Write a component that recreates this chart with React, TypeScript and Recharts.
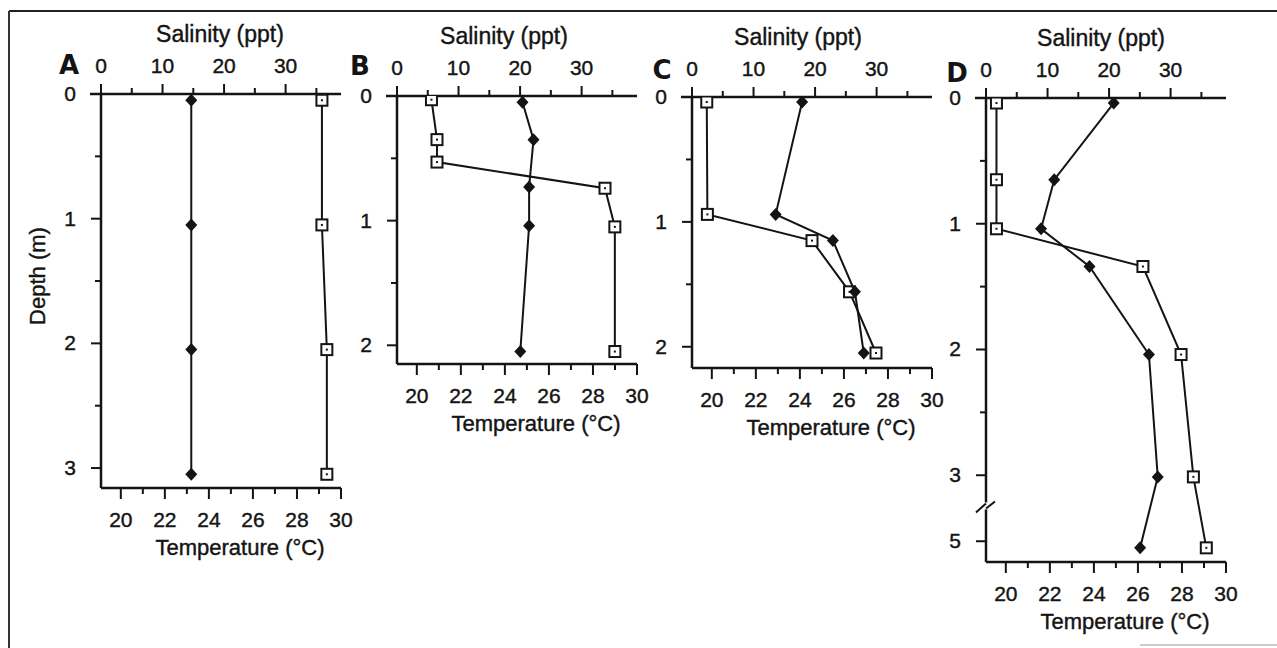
import React from "react";
import { ScatterChart, Scatter, XAxis, YAxis } from "recharts";

// depth profiles: salinity (top axis, squares) and temperature (bottom axis, diamonds)

// Panel A
const depthA = [0.05, 1.05, 2.05, 3.05];
const salA = [35.9, 35.9, 36.7, 36.7];
const tempA = [23.2, 23.2, 23.2, 23.2];

// Panel B
const salDepthB = [0.03, 0.35, 0.53, 0.74, 1.05, 2.05];
const salB = [5.6, 6.5, 6.5, 33.8, 35.4, 35.4];
const tempDepthB = [0.05, 0.35, 0.73, 1.04, 2.05];
const tempB = [24.8, 25.3, 25.1, 25.1, 24.7];

// Panel C
const depthC = [0.04, 0.94, 1.15, 1.56, 2.05];
const salC = [2.4, 2.5, 19.5, 25.6, 29.9];
const tempC = [24.1, 22.9, 25.5, 26.5, 26.9];

// Panel D (axis broken between 3 and 5 m)
const depthD = [0.04, 0.65, 1.04, 1.34, 2.04, 3.05, 5.2];
const salD = [1.7, 1.7, 1.7, 25.5, 31.7, 33.7, 35.8];
const tempD = [24.9, 22.2, 21.6, 23.8, 26.5, 26.9, 26.1];

const salTicks = [0, 5, 10, 15, 20, 25, 30, 35];
const tempTicks = [20, 21, 22, 23, 24, 25, 26, 27, 28, 29, 30];
const depthTicksA = [0, 0.5, 1, 1.5, 2, 2.5, 3];
const depthTicksB = [0, 0.5, 1, 1.5, 2];
const depthTicksC = [0, 0.5, 1, 1.5, 2];
const depthTicksD = [0, 0.5, 1, 1.5, 2, 2.5, 3, 5];

const FONT = '"Liberation Sans", Arial, sans-serif';
const INK = "#141414";
const SQUEEZE = 0.2625; // 3-5 m squeezed on panel D
const BREAK_POS = 3.24;

const breakDepth = (d: number) => (d <= 3 ? d : 3 + (d - 3) * SQUEEZE);
const unbreak = (v: number) => (v <= 3 ? v : Math.round(3 + (v - 3) / SQUEEZE));

const pts = (xs: number[], ds: number[], broken: boolean) =>
  xs.map((x, i) => ({ x, y: broken ? breakDepth(ds[i]) : ds[i] }));

const panels = [
  { id: "A", x0: 101, y0: 94, y1: 488, maxDepth: 3.16, titleDx: -1, letterX: 69, letterY: 74,
    sal: pts(salA, depthA, false), temp: pts(tempA, depthA, false), ticks: depthTicksA, broken: false },
  { id: "B", x0: 397, y0: 96, y1: 364, maxDepth: 2.15, titleDx: -13, letterX: 360, letterY: 75,
    sal: pts(salB, salDepthB, false), temp: pts(tempB, tempDepthB, false), ticks: depthTicksB, broken: false },
  { id: "C", x0: 692, y0: 97, y1: 368, maxDepth: 2.17, titleDx: -14, letterX: 662, letterY: 79,
    sal: pts(salC, depthC, false), temp: pts(tempC, depthC, false), ticks: depthTicksC, broken: false },
  { id: "D", x0: 986, y0: 98, y1: 562, maxDepth: 3.69, titleDx: -5, letterX: 957, letterY: 82,
    sal: pts(salD, depthD, true), temp: pts(tempD, depthD, true), ticks: depthTicksD, broken: true },
];

const textStyle = { fontFamily: FONT, fill: INK, stroke: INK, strokeWidth: 0.4 };

const Square = (p: any) => (
  <g>
    <rect x={p.cx - 5.5} y={p.cy - 5.5} width={11} height={11} fill="#fff" stroke={INK} strokeWidth={2} />
    <rect x={p.cx - 1} y={p.cy - 1} width={2} height={2} fill={INK} />
  </g>
);

const Diamond = (p: any) => (
  <polygon
    points={`${p.cx},${p.cy - 6.5} ${p.cx + 6},${p.cy} ${p.cx},${p.cy + 6.5} ${p.cx - 6},${p.cy}`}
    fill={INK}
  />
);

const TopTick = (p: any) => {
  const v = p.payload.value;
  const major = v % 10 === 0;
  return (
    <g>
      <line x1={p.x} x2={p.x} y1={p.y} y2={p.y - (major ? 10 : 6)} stroke={INK} strokeWidth={2} />
      {v === 0 && <line x1={p.x - 11} x2={p.x} y1={p.y} y2={p.y} stroke={INK} strokeWidth={2.5} />}
      {major && (
        <text x={p.x} y={p.y - 21} textAnchor="middle" fontSize={21} style={textStyle}>
          {v}
        </text>
      )}
    </g>
  );
};

const BottomTick = (p: any) => {
  const v = p.payload.value;
  const major = v % 2 === 0;
  return (
    <g>
      <line x1={p.x} x2={p.x} y1={p.y} y2={p.y + (major ? 11 : 6)} stroke={INK} strokeWidth={2} />
      {major && (
        <text x={p.x} y={p.y + 39} textAnchor="middle" fontSize={21} style={textStyle}>
          {v}
        </text>
      )}
    </g>
  );
};

const DepthTick = (p: any) => {
  const v = p.payload.value;
  if (v === BREAK_POS) {
    return (
      <g>
        <rect x={p.x - 3} y={p.y - 3} width={6} height={7} fill="#fff" />
        <line x1={p.x - 10} y1={p.y + 7} x2={p.x} y2={p.y - 2} stroke={INK} strokeWidth={2} />
        <line x1={p.x} y1={p.y + 3} x2={p.x + 9} y2={p.y - 4} stroke={INK} strokeWidth={2} />
      </g>
    );
  }
  const d = unbreak(v);
  const major = Number.isInteger(d);
  return (
    <g>
      <line x1={p.x} x2={p.x - (major ? 10 : 6)} y1={p.y} y2={p.y} stroke={INK} strokeWidth={2} />
      {major && (
        <text x={p.x - 31} y={p.y + 7} textAnchor="middle" fontSize={21} style={textStyle}>
          {d}
        </text>
      )}
    </g>
  );
};

const axisLine = { stroke: INK, strokeWidth: 2.5 };
const seriesLine = { stroke: INK, strokeWidth: 2 };

const Profile = ({ p }: { p: (typeof panels)[number] }) => {
  const plotH = p.y1 - p.y0;
  const yTicks = p.broken ? [...p.ticks.map(breakDepth), BREAK_POS].sort((a, b) => a - b) : p.ticks;
  return (
    <div style={{ position: "absolute", left: p.x0 - 70, top: p.y0 - 80 }}>
      <ScatterChart width={330} height={plotH + 160} margin={{ top: 0, right: 20, bottom: 0, left: 0 }}>
        <XAxis
          xAxisId="sal"
          orientation="top"
          type="number"
          dataKey="x"
          domain={[0, 39]}
          ticks={salTicks}
          interval={0}
          height={80}
          tickSize={0}
          tickMargin={0}
          tickLine={false}
          axisLine={axisLine}
          tick={(t: any) => <TopTick {...t} />}
          allowDataOverflow
        />
        <XAxis
          xAxisId="temp"
          orientation="bottom"
          type="number"
          dataKey="x"
          domain={[19.1, 30]}
          ticks={tempTicks}
          interval={0}
          height={80}
          tickSize={0}
          tickMargin={0}
          tickLine={false}
          axisLine={axisLine}
          tick={(t: any) => <BottomTick {...t} />}
          allowDataOverflow
        />
        <YAxis
          type="number"
          dataKey="y"
          reversed
          domain={[0, p.maxDepth]}
          ticks={yTicks}
          interval={0}
          width={70}
          tickSize={0}
          tickMargin={0}
          tickLine={false}
          axisLine={axisLine}
          tick={(t: any) => <DepthTick {...t} />}
          allowDataOverflow
        />
        <Scatter
          name="Salinity"
          data={p.sal}
          xAxisId="sal"
          line={seriesLine}
          shape={(s: any) => <Square cx={s.cx} cy={s.cy} />}
          isAnimationActive={false}
        />
        <Scatter
          name="Temperature"
          data={p.temp}
          xAxisId="temp"
          line={seriesLine}
          shape={(s: any) => <Diamond cx={s.cx} cy={s.cy} />}
          isAnimationActive={false}
        />
      </ScatterChart>
    </div>
  );
};

export default function App() {
  return (
    <div style={{ position: "absolute", left: 0, top: 0, width: 1277, height: 648, background: "#fff" }}>
      {panels.map((p) => (
        <Profile key={p.id} p={p} />
      ))}
      <svg
        width={1277}
        height={648}
        style={{ position: "absolute", left: 0, top: 0, pointerEvents: "none" }}
      >
        <line x1={9} y1={11} x2={1277} y2={11} stroke="#222" strokeWidth={2} />
        <line x1={9} y1={11} x2={9} y2={648} stroke="#333" strokeWidth={2} />
        <line x1={1140} y1={645} x2={1277} y2={645} stroke="#bbb" strokeWidth={1.5} />
        {panels.map((p) => (
          <g key={p.id}>
            <text x={p.letterX} y={p.letterY} textAnchor="middle" fontSize={26} fontWeight="bold"
              fontFamily='"DejaVu Sans", sans-serif' fill={INK}>
              {p.id}
            </text>
            <text x={p.x0 + 120 + p.titleDx} y={p.y0 - 52} textAnchor="middle" fontSize={23} style={textStyle}>
              Salinity (ppt)
            </text>
            <text x={p.x0 + 139} y={p.y1 + 67} textAnchor="middle" fontSize={22} style={textStyle}>
              Temperature (°C)
            </text>
          </g>
        ))}
        <text x={45} y={276} transform="rotate(-90 45 276)" textAnchor="middle" fontSize={22} style={textStyle}>
          Depth (m)
        </text>
      </svg>
    </div>
  );
}
